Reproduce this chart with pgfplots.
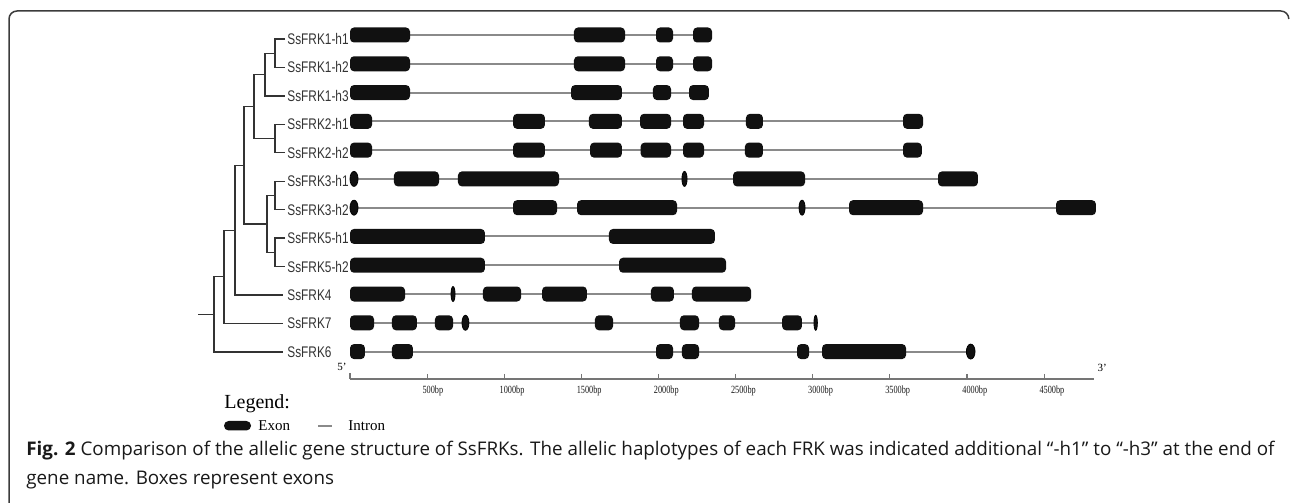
\documentclass[border=0pt]{standalone}
\usepackage{fontspec}
\setmainfont{Liberation Serif}
\newfontfamily\labfont[FakeStretch=0.77]{Liberation Sans}
\newfontfamily\tickfont[FakeStretch=0.75]{Liberation Serif}
\newfontfamily\capfont{Open Sans}
\usepackage{pgfplots}
\pgfplotsset{compat=1.18}
\definecolor{intronc}{HTML}{8A8A8A}
\definecolor{exonc}{HTML}{111111}
\definecolor{treec}{HTML}{333333}
\definecolor{labc}{HTML}{333333}
\definecolor{framec}{HTML}{3C3C3C}
\pgfplotsset{treeline/.style={treec,line width=0.65pt,mark=none,solid}}

% exon: y-centre, start bp, end bp
\newcommand{\exonbox}[3]{%
  \pgfmathsetmacro{\ya}{#1-7.5}\pgfmathsetmacro{\yb}{#1+7.5}%
  \edef\doit{\noexpand\addplot[draw=none,fill=exonc,rounded corners=2pt] coordinates {(#2,\ya) (#3,\ya) (#3,\yb) (#2,\yb)} -- cycle;}\doit}
% small oval exon
\newcommand{\exonoval}[3]{%
  \pgfmathsetmacro{\xc}{(#2+#3)/2}\pgfmathsetmacro{\xs}{(#3-#2)*0.15425/15}%
  \edef\doit{\noexpand\addplot[only marks,mark=*,mark size=3.75pt,mark options={fill=exonc,draw=none,xscale=\xs}] coordinates {(\xc,#1)};}\doit}
\newcommand{\intronline}[2]{\addplot[intronc,line width=1pt] coordinates {(0,#1) (#2,#1)};}

\begin{document}
\begin{tikzpicture}
% ---------------- gene structures (x in bp, y in pixels) ----------------
\begin{axis}[at={(0,0)},anchor=south west,scale only axis,width=645pt,height=251.5pt,
  xmin=-2269,xmax=6094,ymin=0,ymax=503,y dir=reverse,hide axis,clip=false]
% introns
\intronline{35}{2347}
\intronline{63.78}{2347}
\intronline{92.56}{2327}
\intronline{121.34}{3715}
\intronline{150.12}{3707}
\intronline{178.9}{4071}
\intronline{207.68}{4836}
\intronline{236.46}{2366}
\intronline{265.24}{2438}
\intronline{294.02}{2600}
\intronline{322.8}{3022}
\intronline{351.58}{4026}
% SsFRK1-h1
\exonbox{35}{0}{389}\exonbox{35}{1452}{1783}\exonbox{35}{1984}{2094}\exonbox{35}{2224}{2347}
% SsFRK1-h2
\exonbox{63.78}{0}{389}\exonbox{63.78}{1452}{1783}\exonbox{63.78}{1984}{2094}\exonbox{63.78}{2224}{2347}
% SsFRK1-h3
\exonbox{92.56}{0}{389}\exonbox{92.56}{1433}{1763}\exonbox{92.56}{1964}{2081}\exonbox{92.56}{2198}{2327}
% SsFRK2-h1
\exonbox{121.34}{0}{143}\exonbox{121.34}{1057}{1264}\exonbox{121.34}{1549}{1763}\exonbox{121.34}{1880}{2081}
\exonbox{121.34}{2159}{2295}\exonbox{121.34}{2567}{2677}\exonbox{121.34}{3585}{3715}
% SsFRK2-h2
\exonbox{150.12}{0}{143}\exonbox{150.12}{1057}{1264}\exonbox{150.12}{1556}{1763}\exonbox{150.12}{1884}{2081}
\exonbox{150.12}{2159}{2295}\exonbox{150.12}{2560}{2677}\exonbox{150.12}{3585}{3707}
% SsFRK3-h1
\exonoval{178.9}{0}{52}\exonbox{178.9}{285}{577}\exonbox{178.9}{700}{1355}\exonoval{178.9}{2152}{2185}
\exonbox{178.9}{2483}{2950}\exonbox{178.9}{3812}{4071}
% SsFRK3-h2
\exonoval{207.68}{0}{52}\exonbox{207.68}{1057}{1342}\exonbox{207.68}{1472}{2120}\exonoval{207.68}{2911}{2950}
\exonbox{207.68}{3235}{3715}\exonbox{207.68}{4577}{4836}
% SsFRK5-h1
\exonbox{236.46}{0}{875}\exonbox{236.46}{1679}{2366}
% SsFRK5-h2
\exonbox{265.24}{0}{875}\exonbox{265.24}{1744}{2438}
% SsFRK4
\exonbox{294.02}{0}{357}\exonoval{294.02}{655}{681}\exonbox{294.02}{862}{1109}\exonbox{294.02}{1245}{1536}
\exonbox{294.02}{1951}{2100}\exonbox{294.02}{2217}{2600}
% SsFRK7
\exonbox{322.8}{0}{156}\exonbox{322.8}{272}{434}\exonbox{322.8}{551}{668}\exonoval{322.8}{726}{771}
\exonbox{322.8}{1588}{1705}\exonbox{322.8}{2139}{2263}\exonbox{322.8}{2392}{2496}\exonbox{322.8}{2801}{2930}
\exonoval{322.8}{3008}{3030}
% SsFRK6
\exonbox{351.58}{0}{97}\exonbox{351.58}{272}{408}\exonbox{351.58}{1984}{2094}\exonbox{351.58}{2152}{2263}
\exonbox{351.58}{2898}{2976}\exonbox{351.58}{3060}{3605}\exonoval{351.58}{3996}{4052}
% scale bar
\addplot[intronc!85!black,line width=1pt] coordinates {(0,379) (4825,379)};
\addplot[intronc!85!black,line width=0.6pt,unbounded coords=jump] coordinates {
 (0,373)(0,379) (nan,nan) (500,374)(500,379) (nan,nan) (1000,374)(1000,379) (nan,nan)
 (1500,374)(1500,379) (nan,nan) (2000,374)(2000,379) (nan,nan) (2500,374)(2500,379) (nan,nan)
 (3000,374)(3000,379) (nan,nan) (3500,374)(3500,379) (nan,nan) (4000,374)(4000,379) (nan,nan)
 (4500,374)(4500,379)};
\foreach \t in {500,1000,1500,2000,2500,3000,3500,4000,4500}{
  \edef\doit{\noexpand\node[anchor=west,inner sep=0pt,font=\noexpand\tickfont\noexpand\fontsize{5.5}{6}\noexpand\selectfont,text=black!90] at (axis cs:\t-32,390.5) {\t bp};}\doit}
\node[anchor=center,inner sep=0pt,font=\fontsize{5.5}{6}\selectfont] at (axis cs:-52,367) {5'};
\node[anchor=center,inner sep=0pt,font=\fontsize{5.5}{6}\selectfont] at (axis cs:4877,368) {3'};
\end{axis}
% ---------------- tree, labels, legend, caption (x, y in pixels) ----------------
\begin{axis}[at={(0,0)},anchor=south west,scale only axis,width=645pt,height=251.5pt,
  xmin=0,xmax=1290,ymin=0,ymax=503,y dir=reverse,hide axis,clip=false]
\path (axis cs:0,0) rectangle (axis cs:1290,503);
\addplot[treeline] coordinates {(285,39) (275,39) (275,67.45) (285,67.45)};
\addplot[treeline] coordinates {(275,53.2) (265,53.2) (265,95.9) (285,95.9)};
\addplot[treeline] coordinates {(285,124.35) (275,124.35) (275,152.8) (285,152.8)};
\addplot[treeline] coordinates {(265,74.6) (254,74.6) (254,138.6) (275,138.6)};
\addplot[treeline] coordinates {(285,181.25) (275,181.25) (275,209.7) (285,209.7)};
\addplot[treeline] coordinates {(285,238.15) (275,238.15) (275,266.6) (285,266.6)};
\addplot[treeline] coordinates {(275,195.5) (267,195.5) (267,252.4) (275,252.4)};
\addplot[treeline] coordinates {(254,106.6) (244,106.6) (244,224) (267,224)};
\addplot[treeline] coordinates {(244,165.3) (235,165.3) (235,295.05) (283,295.05)};
\addplot[treeline] coordinates {(235,230.2) (224,230.2) (224,323.5) (283,323.5)};
\addplot[treeline] coordinates {(224,276.8) (214,276.8) (214,351.95) (283,351.95)};
\addplot[treeline] coordinates {(214,314.4) (198,314.4)};
% gene labels
\begin{scope}[every node/.style={anchor=base west,inner sep=0pt,text=labc,font=\labfont\fontsize{7.7}{9}\selectfont}]
\node at (axis cs:287,44.5) {SsFRK1-h1};
\node at (axis cs:287,72.95) {SsFRK1-h2};
\node at (axis cs:287,101.4) {SsFRK1-h3};
\node at (axis cs:287,129.85) {SsFRK2-h1};
\node at (axis cs:287,158.3) {SsFRK2-h2};
\node at (axis cs:287,186.75) {SsFRK3-h1};
\node at (axis cs:287,215.2) {SsFRK3-h2};
\node at (axis cs:287,243.65) {SsFRK5-h1};
\node at (axis cs:287,272.1) {SsFRK5-h2};
\node at (axis cs:287,300.55) {SsFRK4};
\node at (axis cs:287,329) {SsFRK7};
\node at (axis cs:287,357.45) {SsFRK6};
\end{scope}
% legend
\node[anchor=base west,inner sep=0pt,font=\fontsize{10}{12}\selectfont] at (axis cs:224,409) {Legend:};
\addplot[draw=none,fill=exonc,rounded corners=2.3pt] coordinates {(224,421) (251,421) (251,430.5) (224,430.5)} -- cycle;
\addplot[intronc,line width=1pt] coordinates {(318,426) (332,426)};
\node[anchor=base west,inner sep=0pt,font=\fontsize{7.5}{9}\selectfont] at (axis cs:258,430.5) {Exon};
\node[anchor=base west,inner sep=0pt,font=\fontsize{7.5}{9}\selectfont] at (axis cs:348,430.5) {Intron};
% caption
\node[anchor=base west,inner sep=0pt,font=\capfont\fontsize{9.4}{11}\selectfont,text=black!90] at (axis cs:26,456)
 {\textbf{Fig. 2} Comparison of the allelic gene structure of SsFRKs. The allelic haplotypes of each FRK was indicated additional “-h1” to “-h3” at the end of};
\node[anchor=base west,inner sep=0pt,font=\capfont\fontsize{9.4}{11}\selectfont,text=black!90] at (axis cs:26,485)
 {gene name. Boxes represent exons};
% frame
\draw[framec,line width=0.75pt,rounded corners=4pt] (axis cs:9,503) -- (axis cs:9,11) -- (axis cs:1288.8,11) -- (axis cs:1288.8,19);
\end{axis}
\end{tikzpicture}
\end{document}
